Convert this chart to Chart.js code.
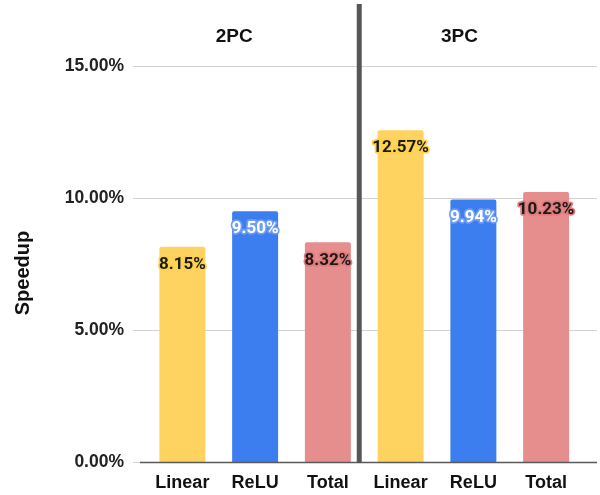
<!DOCTYPE html>
<html>
<head>
<meta charset="utf-8">
<script src="https://cdn.jsdelivr.net/npm/chart.js@4/dist/chart.umd.min.js"></script>
<style>
  html, body { margin: 0; padding: 0; background: #fff; }
  #wrap { width: 600px; height: 495px; position: relative; }
</style>
</head>
<body>
<div id="wrap"><canvas id="c" width="600" height="495"></canvas></div>
<script>
const categories = ['Linear', 'ReLU', 'Total', 'Linear', 'ReLU', 'Total'];
const speedups = [8.15, 9.50, 8.32, 12.57, 9.94, 10.23];
const groupNames = ['2PC', '3PC'];
const yTickValues = [0, 5, 10, 15];
const yAxisTitle = 'Speedup';

const YELLOW = '#FFD35F', BLUE = '#3C7DF0', RED = '#E68D8D';
const barColors = [YELLOW, BLUE, RED, YELLOW, BLUE, RED];
const labelColors = ['#1a1a1a', '#ffffff', '#1a1a1a', '#1a1a1a', '#ffffff', '#1a1a1a'];
const haloColors = ['#FFD24A', '#6F9EF3', '#E07B7B', '#FFD24A', '#6F9EF3', '#E07B7B'];

const decor = {
  id: 'decor',
  beforeDatasetsDraw(chart) {
    const ctx = chart.ctx, y = chart.scales.y;
    ctx.save();
    yTickValues.forEach(v => {
      const py = Math.round(y.getPixelForValue(v)) + 0.5;
      ctx.strokeStyle = '#d3d3d3';
      ctx.lineWidth = 1;
      ctx.beginPath();
      ctx.moveTo(133, py);
      ctx.lineTo(597, py);
      ctx.stroke();
    });
    ctx.restore();
  },
  afterDatasetsDraw(chart) {
    const ctx = chart.ctx, x = chart.scales.x, y = chart.scales.y;
    const meta = chart.getDatasetMeta(0);
    ctx.save();
    const py0 = Math.round(y.getPixelForValue(0)) + 0.5;
    ctx.strokeStyle = '#5a5a5a';
    ctx.lineWidth = 1.5;
    ctx.beginPath();
    ctx.moveTo(140, py0);
    ctx.lineTo(597, py0);
    ctx.stroke();
    ctx.font = 'bold 17px Roboto';
    ctx.textAlign = 'center';
    ctx.textBaseline = 'middle';
    ctx.lineJoin = 'round';
    meta.data.forEach((bar, i) => {
      const txt = speedups[i].toFixed(2) + '%';
      const ty = bar.y + 18;
      ctx.strokeStyle = haloColors[i];
      ctx.lineWidth = 3.5;
      ctx.strokeText(txt, bar.x, ty);
      ctx.fillStyle = labelColors[i];
      ctx.fillText(txt, bar.x, ty);
    });
    const dx = (x.getPixelForValue(2) + x.getPixelForValue(3)) / 2 - 5;
    ctx.fillStyle = '#575757';
    ctx.fillRect(dx - 2.5, 4, 5, py0 - 4);
    ctx.font = 'bold 19px "Liberation Sans"';
    ctx.fillStyle = '#111';
    ctx.fillText(groupNames[0], x.getPixelForValue(1) - 21, 37);
    ctx.fillText(groupNames[1], x.getPixelForValue(4) - 14, 37);
    ctx.save();
    ctx.translate(23, 273);
    ctx.rotate(-Math.PI / 2);
    ctx.font = 'bold 20px "Liberation Sans"';
    ctx.fillStyle = '#111';
    ctx.fillText(yAxisTitle, 0, 0);
    ctx.restore();
    ctx.restore();
  }
};

new Chart(document.getElementById('c'), {
  type: 'bar',
  data: {
    labels: categories,
    datasets: [{
      data: speedups,
      backgroundColor: barColors,
      borderRadius: { topLeft: 2, topRight: 2, bottomLeft: 0, bottomRight: 0 },
      borderSkipped: false,
      barPercentage: 0.632,
      categoryPercentage: 1
    }]
  },
  options: {
    responsive: false,
    animation: false,
    events: [],
    layout: { padding: { top: 5, right: 17.5, left: 0, bottom: 0 } },
    plugins: { legend: { display: false }, tooltip: { enabled: false } },
    scales: {
      x: {
        grid: { display: false, drawTicks: false },
        border: { display: false },
        ticks: {
          padding: 10,
          color: '#111',
          font: { family: 'Liberation Sans', weight: 'bold', size: 18 },
          maxRotation: 0
        },
        afterFit(s) { s.height = 33; s.paddingLeft = 0; s.paddingRight = 0; }
      },
      y: {
        min: 0,
        max: 17.31,
        grid: { display: false, drawTicks: false },
        border: { display: false },
        afterBuildTicks(s) { s.ticks = yTickValues.map(v => ({ value: v })); },
        ticks: {
          padding: 22,
          color: '#222',
          font: { family: 'Liberation Sans', weight: 'bold', size: 17.5 },
          callback: v => v.toFixed(2) + '%'
        },
        afterFit(s) { s.width = 146; s.paddingTop = 0; s.paddingBottom = 0; }
      }
    }
  },
  plugins: [decor]
});
</script>
</body>
</html>
